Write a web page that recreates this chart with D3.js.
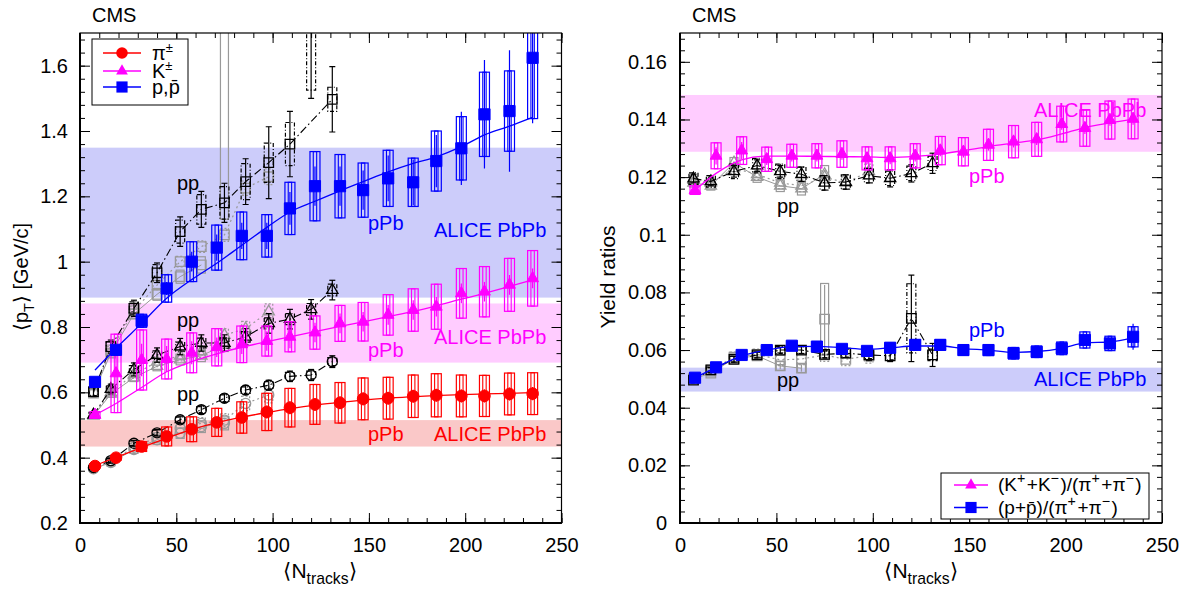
<!DOCTYPE html>
<html><head><meta charset="utf-8">
<script src="https://cdn.jsdelivr.net/npm/d3@7"></script>
<style>body{margin:0;background:#fff}</style>
</head><body><svg id="c" width="1195" height="594"></svg>
<script>
// ---------------- DATA ----------------
const NTRK_TICKS = [0, 50, 100, 150, 200, 250];
const PT_TICKS = [0.2, 0.4, 0.6, 0.8, 1.0, 1.2, 1.4, 1.6];
const RATIO_TICKS = [0, 0.02, 0.04, 0.06, 0.08, 0.1, 0.12, 0.14, 0.16];

// pPb (filled symbols)
const X_PPB = [7.8, 18.7, 32, 45, 58, 71, 84, 97, 109, 122, 135, 147, 160, 173, 185, 198, 210, 223, 235];
const PI_PPB = [0.3745, 0.400, 0.434, 0.465, 0.487, 0.508, 0.523, 0.540, 0.553, 0.563, 0.568, 0.580, 0.582, 0.588, 0.591, 0.589, 0.589, 0.595, 0.596];
const PI_PPB_SYS = [0.005, 0.008, 0.015, 0.029, 0.038, 0.043, 0.048, 0.057, 0.059, 0.061, 0.062, 0.064, 0.064, 0.065, 0.066, 0.064, 0.063, 0.064, 0.064];
const PI_PPB_STAT = [0.003, 0.004, 0.006, 0.010, 0.012, 0.015, 0.018, 0.020, 0.020, 0.020, 0.020, 0.020, 0.020, 0.020, 0.020, 0.020, 0.020, 0.020, 0.020];
const PI_FIT = [0.376, 0.401, 0.431, 0.460, 0.486, 0.507, 0.524, 0.538, 0.550, 0.561, 0.569, 0.576, 0.582, 0.587, 0.590, 0.593, 0.595, 0.597, 0.599];
const K_PPB = [0.531, 0.658, 0.699, 0.702, 0.721, 0.738, 0.747, 0.757, 0.770, 0.783, 0.811, 0.816, 0.837, 0.852, 0.862, 0.903, 0.908, 0.929, 0.949];
const K_PPB_SYS = [0.010, 0.120, 0.092, 0.061, 0.061, 0.057, 0.056, 0.046, 0.046, 0.051, 0.055, 0.059, 0.062, 0.065, 0.069, 0.076, 0.077, 0.081, 0.085];
const K_PPB_STAT = [0.005, 0.060, 0.050, 0.040, 0.035, 0.030, 0.030, 0.030, 0.035, 0.030, 0.030, 0.030, 0.030, 0.030, 0.030, 0.030, 0.030, 0.030, 0.030];
const K_FIT = [0.531, 0.566, 0.615, 0.663, 0.694, 0.718, 0.738, 0.755, 0.770, 0.786, 0.802, 0.816, 0.832, 0.848, 0.865, 0.885, 0.903, 0.924, 0.944];
const P_PPB = [0.632, 0.730, 0.819, 0.918, 1.000, 1.043, 1.079, 1.079, 1.163, 1.231, 1.231, 1.219, 1.255, 1.243, 1.308, 1.347, 1.451, 1.461, 1.624];
const P_PPB_SYS = [0.010, 0.012, 0.020, 0.042, 0.061, 0.069, 0.073, 0.065, 0.080, 0.106, 0.097, 0.083, 0.086, 0.074, 0.092, 0.097, 0.129, 0.123, 0.186];
const P_PPB_STAT = [0.005, 0.005, 0.010, 0.020, 0.030, 0.040, 0.040, 0.040, 0.050, 0.060, 0.060, 0.060, 0.070, 0.070, 0.080, 0.112, 0.166, 0.186, 0.200];
const P_FIT = [0.668, 0.735, 0.811, 0.888, 0.945, 0.995, 1.050, 1.105, 1.152, 1.185, 1.217, 1.245, 1.275, 1.301, 1.321, 1.352, 1.388, 1.415, 1.442];
const KPI_PPB = [0.1155, 0.1274, 0.1292, 0.1262, 0.1274, 0.1274, 0.1280, 0.1265, 0.1265, 0.1274, 0.1292, 0.1288, 0.1312, 0.1323, 0.1331, 0.1384, 0.1370, 0.1398, 0.1402];
const KPI_PPB_SYS = [0.0015, 0.0045, 0.0048, 0.0042, 0.0040, 0.0042, 0.0046, 0.0040, 0.0040, 0.0042, 0.0049, 0.0049, 0.0054, 0.0056, 0.0059, 0.0062, 0.0063, 0.0066, 0.0069];
const KPI_PPB_STAT = [0.0010, 0.0030, 0.0030, 0.0020, 0.0020, 0.0020, 0.0020, 0.0020, 0.0020, 0.0020, 0.0020, 0.0020, 0.0020, 0.0020, 0.0020, 0.0020, 0.0020, 0.0020, 0.0020];
const KPI_FIT = [0.1155, 0.1213, 0.1260, 0.1273, 0.1273, 0.1272, 0.1271, 0.1270, 0.1268, 0.1272, 0.1280, 0.1292, 0.1306, 0.1318, 0.1329, 0.1350, 0.1372, 0.1388, 0.1401];
const PPI_PPB = [0.0504, 0.0540, 0.0583, 0.0600, 0.0615, 0.0612, 0.0604, 0.0597, 0.0608, 0.0618, 0.0618, 0.0600, 0.0600, 0.0589, 0.0594, 0.0606, 0.0635, 0.0623, 0.0646];
const PPI_PPB_SYS = [0.0010, 0.0010, 0.0010, 0.0012, 0.0013, 0.0014, 0.0015, 0.0015, 0.0016, 0.0017, 0.0018, 0.0018, 0.0019, 0.0020, 0.0020, 0.0022, 0.0028, 0.0025, 0.0035];
const PPI_PPB_STAT = [0.0005, 0.0005, 0.0005, 0.0006, 0.0006, 0.0007, 0.0007, 0.0008, 0.0008, 0.0009, 0.0010, 0.0010, 0.0010, 0.0011, 0.0012, 0.0013, 0.0015, 0.0018, 0.0045];
const PPI_FIT = [0.0504, 0.0540, 0.0580, 0.0600, 0.0612, 0.0613, 0.0608, 0.0603, 0.0608, 0.0614, 0.0614, 0.0605, 0.0600, 0.0592, 0.0595, 0.0606, 0.0625, 0.0628, 0.0643];

// pp 7 TeV (black open symbols)
const X_PP7 = [7, 16, 28, 40, 52, 63, 75, 86, 98, 109, 120, 131];
const PI_PP7 = [0.370, 0.391, 0.444, 0.476, 0.516, 0.547, 0.582, 0.607, 0.622, 0.649, 0.653, 0.694];
const PI_PP7_SYS = [0.006, 0.006, 0.007, 0.008, 0.008, 0.009, 0.010, 0.010, 0.011, 0.012, 0.012, 0.012];
const PI_PP7_STAT = [0.008, 0.008, 0.009, 0.010, 0.011, 0.012, 0.013, 0.014, 0.015, 0.016, 0.017, 0.018];
const K_PP7 = [0.531, 0.610, 0.670, 0.714, 0.740, 0.751, 0.751, 0.770, 0.811, 0.824, 0.854, 0.913];
const K_PP7_SYS = [0.008, 0.010, 0.012, 0.013, 0.014, 0.015, 0.016, 0.016, 0.017, 0.017, 0.018, 0.018];
const K_PP7_STAT = [0.010, 0.015, 0.020, 0.022, 0.025, 0.025, 0.025, 0.025, 0.030, 0.030, 0.030, 0.030];
const P_PP7 = [0.602, 0.740, 0.857, 0.966, 1.092, 1.160, 1.180, 1.245, 1.303, 1.360, 1.900, 1.497];
const P_PP7_SYS = [0.012, 0.015, 0.020, 0.025, 0.035, 0.045, 0.050, 0.055, 0.060, 0.066, 0.375, 0.037];
const P_PP7_STAT = [0.015, 0.020, 0.025, 0.030, 0.045, 0.055, 0.060, 0.070, 0.110, 0.100, 0.400, 0.100];
const KPI_PP7 = [0.1195, 0.1185, 0.1220, 0.1240, 0.1220, 0.1210, 0.1180, 0.1183, 0.1205, 0.1196, 0.1213, 0.1248];
const KPI_PP7_SYS = [0.0020, 0.0020, 0.0025, 0.0025, 0.0025, 0.0025, 0.0025, 0.0025, 0.0025, 0.0025, 0.0025, 0.0025];
const KPI_PP7_STAT = [0.0015, 0.0015, 0.0020, 0.0020, 0.0020, 0.0025, 0.0025, 0.0025, 0.0025, 0.0030, 0.0030, 0.0035];
const PPI_PP7 = [0.0496, 0.0531, 0.0568, 0.0583, 0.0600, 0.0600, 0.0585, 0.0589, 0.0583, 0.0580, 0.0710, 0.0583];
const PPI_PP7_SYS = [0.0010, 0.0010, 0.0010, 0.0010, 0.0012, 0.0012, 0.0012, 0.0013, 0.0013, 0.0014, 0.0120, 0.0020];
const PPI_PP7_STAT = [0.0008, 0.0008, 0.0010, 0.0010, 0.0010, 0.0012, 0.0012, 0.0015, 0.0020, 0.0020, 0.0150, 0.0040];

// pp 2.76 TeV (grey, dotted)
const X_PP2 = [7, 16, 28, 40, 52, 63, 75, 86, 98];
const PI_PP2 = [0.368, 0.388, 0.432, 0.462, 0.490, 0.505, 0.515, 0.566, 0.592];
const K_PP2 = [0.530, 0.600, 0.655, 0.693, 0.712, 0.725, 0.775, 0.795, 0.847];
const P_PP2 = [0.600, 0.730, 0.850, 0.928, 1.000, 1.046, 1.082, 1.225, 1.260];
const KPI_PP2 = [0.1190, 0.1180, 0.1230, 0.1210, 0.1180, 0.1170, 0.1200, 0.1180, 0.1220];
const PPI_PP2 = [0.0500, 0.0530, 0.0575, 0.0585, 0.0566, 0.0569, 0.0583, 0.0568, 0.0580];
const PT_PP2_SYS = [0.008, 0.010, 0.012, 0.014, 0.016, 0.018, 0.020, 0.022, 0.024];
const R_PP2_SYS = [0.0015, 0.0015, 0.0018, 0.0018, 0.0020, 0.0020, 0.0022, 0.0022, 0.0025];

// pp 0.9 TeV (grey, solid)
const X_PP09 = [7, 16, 28, 40, 52, 63, 75];
const PI_PP09 = [0.366, 0.385, 0.425, 0.455, 0.475, 0.495, 0.505];
const K_PP09 = [0.528, 0.595, 0.645, 0.680, 0.700, 0.712, 0.745];
const P_PP09 = [0.598, 0.720, 0.840, 0.900, 0.954, 0.990, 1.950];
const P_PP09_SYS = [0.010, 0.012, 0.015, 0.018, 0.020, 0.025, 0.820];
const KPI_PP09 = [0.1180, 0.1170, 0.1250, 0.1200, 0.1170, 0.1160, 0.1210];
const PPI_PP09 = [0.0500, 0.0520, 0.0570, 0.0580, 0.0545, 0.0537, 0.0707];
const PPI_PP09_SYS = [0.0010, 0.0010, 0.0012, 0.0012, 0.0015, 0.0015, 0.0124];
const PPI_PP09_STAT = [0.0008, 0.0008, 0.0010, 0.0010, 0.0012, 0.0012, 0.0119];
const PT_PP09_SYS = [0.008, 0.010, 0.012, 0.014, 0.016, 0.018, 0.020];
const R_PP09_SYS = [0.0015, 0.0015, 0.0018, 0.0018, 0.0020, 0.0022, 0.0030];

// ALICE PbPb bands (low, high): pions, kaons, protons
const ALICE_PT_LO = [0.434, 0.691, 0.890];
const ALICE_PT_HI = [0.515, 0.872, 1.349];
const ALICE_R_LO = [0.1288, 0.0456];
const ALICE_R_HI = [0.1485, 0.0539];

// ---------------- DRAWING ----------------
const FONT = '"Liberation Sans", Arial, Helvetica, sans-serif';
const RED = '#ff0000', MAG = '#ff00ff', BLUE = '#0000ff', GREY = '#999999';
const FS = 20;
const svg = d3.select('#c').style('font-family', FONT);

function makePanel(cfg) {
  const g = svg.append('g');
  const x = d3.scaleLinear().domain([0, 250]).range([cfg.left, cfg.right]);
  const y = d3.scaleLinear().domain(cfg.yDomain).range([cfg.bottom, cfg.top]);
  svg.append('clipPath').attr('id', cfg.id).append('rect')
    .attr('x', cfg.left).attr('y', cfg.top)
    .attr('width', cfg.right - cfg.left).attr('height', cfg.bottom - cfg.top);
  const bands = g.append('g').attr('clip-path', `url(#${cfg.id})`);
  const plot = g.append('g').attr('clip-path', `url(#${cfg.id})`);
  const over = g.append('g');
  return {cfg, g, x, y, bands, plot, over};
}

function drawAxes(P, majors, minors, fmt, labelPad) {
  const {x, y, over, cfg} = P;
  const ax = over.append('g');
  const style = s => {
    s.selectAll('.tick line').attr('stroke', '#000').attr('stroke-width', 1);
    s.selectAll('text').attr('font-size', FS).attr('font-family', FONT).attr('fill', '#000');
    s.select('.domain').remove();
  };
  ax.append('g').attr('transform', `translate(0,${cfg.bottom})`)
    .call(d3.axisBottom(x).tickValues(NTRK_TICKS).tickSize(-10).tickSizeOuter(0).tickPadding(15)).call(style);
  ax.append('g').attr('transform', `translate(0,${cfg.bottom})`)
    .call(d3.axisBottom(x).tickValues(d3.range(0, 251, 10)).tickSize(-5).tickFormat('')).call(style);
  ax.append('g').attr('transform', `translate(0,${cfg.top})`)
    .call(d3.axisTop(x).tickValues(NTRK_TICKS).tickSize(-10).tickFormat('')).call(style);
  ax.append('g').attr('transform', `translate(0,${cfg.top})`)
    .call(d3.axisTop(x).tickValues(d3.range(0, 251, 10)).tickSize(-5).tickFormat('')).call(style);
  ax.append('g').attr('transform', `translate(${cfg.left},0)`)
    .call(d3.axisLeft(y).tickValues(majors).tickSize(-10).tickPadding(labelPad).tickFormat(fmt)).call(style);
  ax.append('g').attr('transform', `translate(${cfg.left},0)`)
    .call(d3.axisLeft(y).tickValues(minors).tickSize(-5).tickFormat('')).call(style);
  ax.append('g').attr('transform', `translate(${cfg.right},0)`)
    .call(d3.axisRight(y).tickValues(majors).tickSize(-10).tickFormat('')).call(style);
  ax.append('g').attr('transform', `translate(${cfg.right},0)`)
    .call(d3.axisRight(y).tickValues(minors).tickSize(-5).tickFormat('')).call(style);
  over.append('rect').attr('x', cfg.left).attr('y', cfg.top)
    .attr('width', cfg.right - cfg.left).attr('height', cfg.bottom - cfg.top)
    .attr('fill', 'none').attr('stroke', '#000').attr('stroke-width', 1.2);
  over.append('path').attr('d', `M${cfg.left},${cfg.top}V${cfg.bottom}H${cfg.right}`)
    .attr('fill', 'none').attr('stroke', '#000').attr('stroke-width', 2);
}

function drawBand(P, lo, hi, color) {
  const {x, y} = P;
  P.bands.append('rect').attr('x', x(0)).attr('width', x(250) - x(0))
    .attr('y', y(hi)).attr('height', y(lo) - y(hi)).attr('fill', color);
}

function drawSeries(P, s) {
  const {x, y, plot} = P;
  const layer = plot.append('g');
  const [y0, y1] = y.domain();
  const pts = s.xs.map((xv, i) => ({x: xv, y: s.ys[i], sys: s.sys ? s.sys[i] : 0, stat: s.stat ? s.stat[i] : 0}));
  if (s.lineXs) {
    const lp = s.lineXs.map((v, i) => [v, s.lineYs[i]]).filter(d => d[1] >= y0 && d[1] <= y1);
    layer.append('path')
      .attr('d', d3.line().x(d => x(d[0])).y(d => y(d[1])).curve(s.curve || d3.curveLinear)(lp))
      .attr('fill', 'none').attr('stroke', s.lineColor || s.color)
      .attr('stroke-width', s.lineWidth || 1.3).attr('stroke-dasharray', s.dash || null);
  }
  pts.forEach(p => {
    const cx = x(p.x);
    if (p.sys > 0) {
      const top = y(p.y + p.sys), h = y(p.y - p.sys) - y(p.y + p.sys);
      layer.append('rect').attr('x', cx - s.boxW / 2).attr('y', top).attr('width', s.boxW).attr('height', h)
        .attr('fill', 'none').attr('stroke', s.color).attr('stroke-width', 1.2)
        .attr('stroke-dasharray', s.boxDash || null);
      if (s.innerW) {
        layer.append('rect').attr('x', cx - s.innerW / 2).attr('y', top).attr('width', s.innerW).attr('height', h)
          .attr('fill', 'none').attr('stroke', s.color).attr('stroke-width', 1.1)
          .attr('stroke-dasharray', s.boxDash || null);
      }
    }
    if (p.stat > 0) {
      layer.append('line').attr('x1', cx).attr('x2', cx)
        .attr('y1', y(p.y + p.stat)).attr('y2', y(p.y - p.stat))
        .attr('stroke', s.color).attr('stroke-width', 1.2);
      if (s.caps) {
        [p.y + p.stat, p.y - p.stat].forEach(v => layer.append('line')
          .attr('x1', cx - s.caps / 2).attr('x2', cx + s.caps / 2).attr('y1', y(v)).attr('y2', y(v))
          .attr('stroke', s.color).attr('stroke-width', 1.2));
      }
    }
  });
  layer.selectAll(null).data(pts).join('path')
    .attr('transform', d => `translate(${x(d.x)},${y(d.y)})`)
    .attr('d', d3.symbol().type(s.symbol).size(s.size))
    .attr('fill', s.filled ? s.color : 'none')
    .attr('stroke', s.color).attr('stroke-width', s.filled ? 1 : 1.3);
}

function richText(sel, parts, size, scale) {
  const sc = scale || 0.7;
  let cur = 0;
  parts.forEach(p => {
    const shift = p.sup ? -0.42 * size : p.sub ? 0.3 * size : 0;
    const ts = sel.append('tspan').text(p.t).attr('dy', shift - cur);
    if (p.sup || p.sub) ts.attr('font-size', size * sc);
    if (p.dx) ts.attr('dx', p.dx);
    cur = shift;
  });
}

function label(P, x, y, txt, color, size) {
  P.over.append('text').attr('x', x).attr('y', y).attr('fill', color)
    .attr('font-size', size || FS).attr('font-family', FONT).text(txt);
}

// ---------- LEFT PANEL ----------
const L = makePanel({id: 'clipL', left: 80, right: 561.5, top: 33, bottom: 523, yDomain: [0.2, 1.7]});
drawBand(L, ALICE_PT_LO[2], ALICE_PT_HI[2], '#ccccfa');
drawBand(L, ALICE_PT_LO[1], ALICE_PT_HI[1], '#ffccff');
drawBand(L, ALICE_PT_LO[0], ALICE_PT_HI[0], '#fac8c8');

[[PI_PP09, d3.symbolCircle, 80], [K_PP09, d3.symbolTriangle, 55], [P_PP09, d3.symbolSquare, 90]].forEach(([ys, sym, sz], k) => {
  drawSeries(L, {xs: X_PP09, ys, sys: k === 2 ? P_PP09_SYS : PT_PP09_SYS, color: GREY, symbol: sym, size: sz,
    boxW: 8, lineXs: X_PP09, lineYs: ys, lineWidth: 1});
});
[[PI_PP2, d3.symbolCircle, 80], [K_PP2, d3.symbolTriangle, 55], [P_PP2, d3.symbolSquare, 90]].forEach(([ys, sym, sz]) => {
  drawSeries(L, {xs: X_PP2, ys, sys: PT_PP2_SYS, color: GREY, symbol: sym, size: sz, boxW: 8, boxDash: '2,2',
    lineXs: X_PP2, lineYs: ys, dash: '2,3', lineWidth: 1.2});
});
[[PI_PP7, PI_PP7_SYS, PI_PP7_STAT, d3.symbolCircle, 80], [K_PP7, K_PP7_SYS, K_PP7_STAT, d3.symbolTriangle, 55],
 [P_PP7, P_PP7_SYS, P_PP7_STAT, d3.symbolSquare, 90]].forEach(([ys, sys, stat, sym, sz]) => {
  drawSeries(L, {xs: X_PP7, ys, sys, stat, color: '#000', symbol: sym, size: sz, boxW: 9, boxDash: '4,2,1,2',
    caps: 6, lineXs: X_PP7, lineYs: ys, dash: '8,3,1.5,3', lineWidth: 1.1});
});
drawSeries(L, {xs: X_PPB, ys: PI_PPB, sys: PI_PPB_SYS, stat: PI_PPB_STAT, color: RED, symbol: d3.symbolCircle,
  size: 105, filled: true, boxW: 10, innerW: 3.4, lineXs: X_PPB, lineYs: PI_FIT, curve: d3.curveMonotoneX});
drawSeries(L, {xs: X_PPB, ys: K_PPB, sys: K_PPB_SYS, stat: K_PPB_STAT, color: MAG, symbol: d3.symbolTriangle,
  size: 60, filled: true, boxW: 10, innerW: 3.4, lineXs: X_PPB, lineYs: K_FIT, curve: d3.curveMonotoneX});
drawSeries(L, {xs: X_PPB, ys: P_PPB, sys: P_PPB_SYS, stat: P_PPB_STAT, color: BLUE, symbol: d3.symbolSquare,
  size: 125, filled: true, boxW: 10, innerW: 3.4, lineXs: X_PPB, lineYs: P_FIT, curve: d3.curveMonotoneX});

drawAxes(L, PT_TICKS, d3.range(0.2, 1.7001, 0.04).map(v => +v.toFixed(2)), d => String(+d.toFixed(1)), 12);

label(L, 177, 190, 'pp', '#000');
label(L, 368, 230, 'pPb', BLUE);
label(L, 434, 237, 'ALICE PbPb', BLUE);
label(L, 177, 327, 'pp', '#000');
label(L, 368, 357, 'pPb', MAG);
label(L, 434, 344, 'ALICE PbPb', MAG);
label(L, 177, 401, 'pp', '#000');
label(L, 368, 441, 'pPb', RED);
label(L, 434, 441, 'ALICE PbPb', RED);
label(L, 92, 22, 'CMS', '#000', 20);

const ytL = L.over.append('text').attr('transform', 'translate(28,277) rotate(-90)')
  .attr('text-anchor', 'middle').attr('font-size', FS).attr('font-family', FONT);
richText(ytL, [{t: '\u27E8p'}, {t: 'T', sub: true}, {t: '\u27E9 [GeV/c]'}], FS, 0.72);
const xtL = L.over.append('text').attr('x', 320).attr('y', 578).attr('text-anchor', 'middle')
  .attr('font-size', 21).attr('font-family', FONT);
richText(xtL, [{t: '\u27E8N'}, {t: 'tracks', sub: true}, {t: '\u27E9'}], 21, 0.75);

{
  const lg = L.over.append('g');
  lg.append('rect').attr('x', 92).attr('y', 39).attr('width', 96).attr('height', 66)
    .attr('fill', '#fff').attr('stroke', '#000').attr('stroke-width', 1);
  const items = [[RED, d3.symbolCircle, 105, 53, [{t: '\u03C0'}, {t: '\u00B1', sup: true}]],
                 [MAG, d3.symbolTriangle, 60, 71, [{t: 'K'}, {t: '\u00B1', sup: true}]],
                 [BLUE, d3.symbolSquare, 125, 87, [{t: 'p,p\u0304'}]]];
  items.forEach(([c, sym, sz, yy, parts]) => {
    lg.append('line').attr('x1', 103).attr('x2', 141).attr('y1', yy).attr('y2', yy).attr('stroke', c).attr('stroke-width', 1.3);
    lg.append('path').attr('transform', `translate(122,${yy})`).attr('d', d3.symbol().type(sym).size(sz)).attr('fill', c);
    const t = lg.append('text').attr('x', 152).attr('y', yy + 7).attr('font-size', 20).attr('font-family', FONT);
    richText(t, parts, 20, 0.65);
  });
}

// ---------- RIGHT PANEL ----------
const R = makePanel({id: 'clipR', left: 680, right: 1162, top: 33, bottom: 523, yDomain: [0, 0.17]});
drawBand(R, ALICE_R_LO[0], ALICE_R_HI[0], '#ffccff');
drawBand(R, ALICE_R_LO[1], ALICE_R_HI[1], '#ccccfa');

drawSeries(R, {xs: X_PP09, ys: KPI_PP09, sys: R_PP09_SYS, color: GREY, symbol: d3.symbolTriangle, size: 55, boxW: 8,
  lineXs: X_PP09, lineYs: KPI_PP09, lineWidth: 1});
drawSeries(R, {xs: X_PP09, ys: PPI_PP09, sys: PPI_PP09_SYS, stat: PPI_PP09_STAT, color: GREY, symbol: d3.symbolSquare, size: 90, boxW: 8,
  lineXs: X_PP09.slice(0, 6), lineYs: PPI_PP09.slice(0, 6), lineWidth: 1});
drawSeries(R, {xs: X_PP2, ys: KPI_PP2, sys: R_PP2_SYS, color: GREY, symbol: d3.symbolTriangle, size: 55, boxW: 8, boxDash: '2,2',
  lineXs: X_PP2, lineYs: KPI_PP2, dash: '2,3', lineWidth: 1.2});
drawSeries(R, {xs: X_PP2, ys: PPI_PP2, sys: R_PP2_SYS, color: GREY, symbol: d3.symbolSquare, size: 90, boxW: 8, boxDash: '2,2',
  lineXs: X_PP2, lineYs: PPI_PP2, dash: '2,3', lineWidth: 1.2});
drawSeries(R, {xs: X_PP7, ys: KPI_PP7, sys: KPI_PP7_SYS, stat: KPI_PP7_STAT, color: '#000', symbol: d3.symbolTriangle, size: 55,
  boxW: 9, boxDash: '4,2,1,2', caps: 6, lineXs: X_PP7, lineYs: KPI_PP7, dash: '8,3,1.5,3', lineWidth: 1.1});
drawSeries(R, {xs: X_PP7, ys: PPI_PP7, sys: PPI_PP7_SYS, stat: PPI_PP7_STAT, color: '#000', symbol: d3.symbolSquare, size: 90,
  boxW: 9, boxDash: '4,2,1,2', caps: 6, lineXs: X_PP7, lineYs: PPI_PP7, dash: '8,3,1.5,3', lineWidth: 1.1});
drawSeries(R, {xs: X_PPB, ys: KPI_PPB, sys: KPI_PPB_SYS, stat: KPI_PPB_STAT, color: MAG, symbol: d3.symbolTriangle,
  size: 60, filled: true, boxW: 10, innerW: 3.4, lineXs: X_PPB, lineYs: KPI_FIT, curve: d3.curveMonotoneX});
drawSeries(R, {xs: X_PPB, ys: PPI_PPB, sys: PPI_PPB_SYS, stat: PPI_PPB_STAT, color: BLUE, symbol: d3.symbolSquare,
  size: 125, filled: true, boxW: 10, innerW: 3.4, lineXs: X_PPB, lineYs: PPI_FIT, curve: d3.curveMonotoneX});

drawAxes(R, RATIO_TICKS, d3.range(0, 0.1701, 0.004).map(v => +v.toFixed(3)), d => String(+d.toFixed(2)), 13);

label(R, 777, 213, 'pp', '#000');
label(R, 969, 183, 'pPb', MAG);
label(R, 1034, 117, 'ALICE PbPb', MAG);
label(R, 969, 337, 'pPb', BLUE);
label(R, 1034, 386, 'ALICE PbPb', BLUE);
label(R, 777, 387, 'pp', '#000');
label(R, 692, 22, 'CMS', '#000', 20);

R.over.append('text').attr('transform', 'translate(615,277) rotate(-90)').attr('text-anchor', 'middle')
  .attr('font-size', 21).attr('font-family', FONT).text('Yield ratios');
const xtR = R.over.append('text').attr('x', 921).attr('y', 578).attr('text-anchor', 'middle')
  .attr('font-size', 21).attr('font-family', FONT);
richText(xtR, [{t: '\u27E8N'}, {t: 'tracks', sub: true}, {t: '\u27E9'}], 21, 0.75);

{
  const lg = R.over.append('g');
  lg.append('rect').attr('x', 941).attr('y', 473).attr('width', 208).attr('height', 46)
    .attr('fill', '#fff').attr('stroke', '#000').attr('stroke-width', 1);
  const items = [[MAG, d3.symbolTriangle, 60, 485,
      [{t: '(K'}, {t: '+', sup: true}, {t: '+K', dx: 1.5}, {t: '\u2212', sup: true}, {t: ')/(\u03C0', dx: 1.5}, {t: '+', sup: true}, {t: '+\u03C0', dx: 1.5}, {t: '\u2212', sup: true}, {t: ')', dx: 1.5}]],
    [BLUE, d3.symbolSquare, 125, 507.5,
      [{t: '(p+p\u0304)/(\u03C0'}, {t: '+', sup: true}, {t: '+\u03C0', dx: 1.5}, {t: '\u2212', sup: true}, {t: ')', dx: 1.5}]]];
  items.forEach(([c, sym, sz, yy, parts]) => {
    lg.append('line').attr('x1', 954).attr('x2', 988).attr('y1', yy).attr('y2', yy).attr('stroke', c).attr('stroke-width', 1.3);
    lg.append('path').attr('transform', `translate(971,${yy})`).attr('d', d3.symbol().type(sym).size(sz)).attr('fill', c);
    const t = lg.append('text').attr('x', 998).attr('y', yy + 6).attr('font-size', 19).attr('font-family', FONT);
    richText(t, parts, 19, 0.75);
  });
}
</script></body></html>
